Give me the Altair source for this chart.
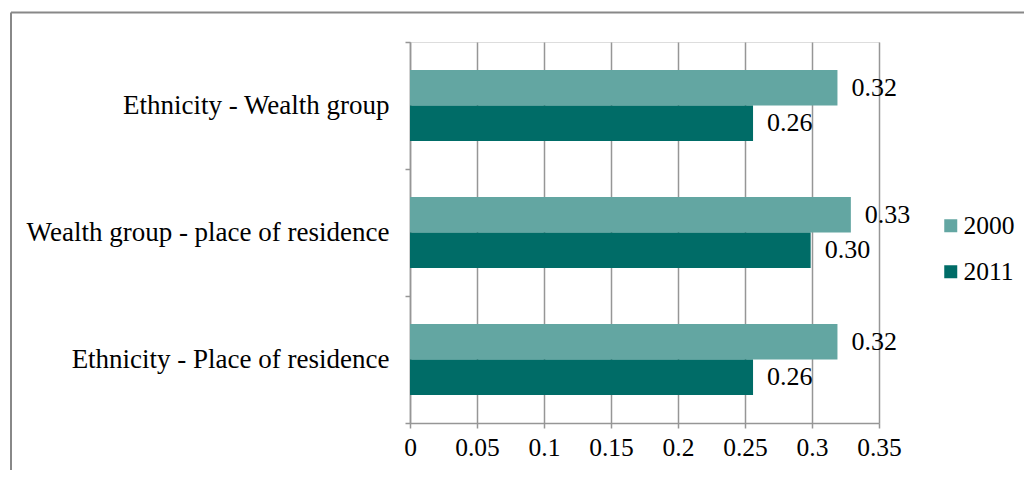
import altair as alt
import pandas as pd

categories = ["Ethnicity - Wealth group", "Wealth group - place of residence", "Ethnicity - Place of residence"]
years = ["2000", "2011"]
values_2000 = [0.319, 0.329, 0.319]
values_2011 = [0.256, 0.299, 0.256]
x_ticks = [0, 0.05, 0.1, 0.15, 0.2, 0.25, 0.3, 0.35]
colors = ["#63A6A2", "#006C67"]

rows = []
for c, v0, v1 in zip(categories, values_2000, values_2011):
    rows.append({"category": c, "year": "2000", "value": v0})
    rows.append({"category": c, "year": "2011", "value": v1})
df = pd.DataFrame(rows)

FONT = "Liberation Serif"
GRID = "#969696"

y_enc = alt.Y(
    "category:N", sort=categories, title=None,
    scale=alt.Scale(paddingInner=0, paddingOuter=0),
    axis=alt.Axis(tickBand="extent", tickSize=5, tickColor=GRID, tickWidth=1.5,
                  domainColor=GRID, domainWidth=1.5, labelFont=FONT, labelFontSize=27,
                  labelColor="black", labelPadding=16, grid=False, labelLimit=500),
)
yoff_enc = alt.YOffset("year:N", sort=years, scale=alt.Scale(paddingInner=0, paddingOuter=0.79))
x_enc = alt.X(
    "value:Q", title=None,
    scale=alt.Scale(domain=[0, 0.35], nice=False),
    axis=alt.Axis(values=x_ticks, format="~g", grid=True, gridColor=GRID, gridWidth=1.5,
                  tickSize=5, tickColor=GRID, tickWidth=1.5, domainColor=GRID, domainWidth=1.5,
                  labelFont=FONT, labelFontSize=25.5, labelColor="black", labelPadding=7,
                  labelFlush=False, labelOverlap=False),
)

bars = alt.Chart(df).mark_bar().encode(
    y=y_enc, yOffset=yoff_enc, x=x_enc,
    color=alt.Color("year:N", scale=alt.Scale(domain=years, range=colors), title=None,
                    legend=alt.Legend(orient="none", legendX=528, legendY=171,
                                      symbolType="square", symbolSize=169, symbolStrokeWidth=0,
                                      labelFont=FONT, labelFontSize=25.5, labelColor="black",
                                      labelOffset=0, rowPadding=19)),
)

labels = alt.Chart(df).mark_text(align="left", baseline="middle", dx=14, font=FONT,
                                 fontSize=26, color="black").encode(
    y=alt.Y("category:N", sort=categories),
    yOffset=alt.YOffset("year:N", sort=years),
    x=alt.X("value:Q"),
    text=alt.Text("value:Q", format=".2f"),
)

frame_data = pd.DataFrame({"k": [0]})
top_line = alt.Chart(frame_data).mark_rule(color="#888888", strokeWidth=2).encode(
    x=alt.value(-399), x2=alt.value(700), y=alt.value(-29.5))
left_line = alt.Chart(frame_data).mark_rule(color="#888888", strokeWidth=2).encode(
    x=alt.value(-399), y=alt.value(-29.5), y2=alt.value(500))

chart = alt.layer(bars, labels, top_line, left_line).properties(
    width=469, height=381,
    autosize=alt.AutoSizeParams(type="none"),
    padding={"left": 402, "top": 34, "right": 145, "bottom": 47},
).configure_view(stroke="transparent").configure(background="white")

chart.save("out.html", embed_options={"renderer": "svg", "actions": False})
